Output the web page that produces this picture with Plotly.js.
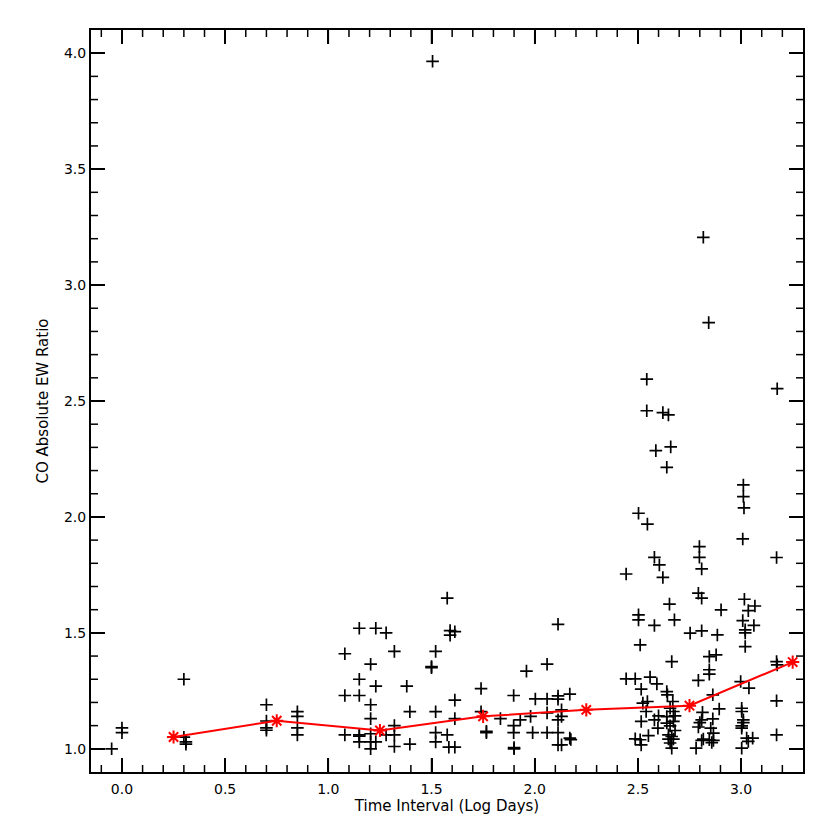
<!DOCTYPE html>
<html>
<head>
<meta charset="utf-8">
<script src="https://cdn.plot.ly/plotly-3.0.1.min.js"></script>
<style>
  html, body { margin: 0; padding: 0; background: #fff; }
  #chart { width: 830px; height: 830px; }
</style>
</head>
<body>
<div id="chart"></div>
<script>
// individual measurements: time interval (log days) vs EW ratio
const logDays = [
  -0.05, 0.00, 0.00,
  0.30, 0.30, 0.31, 0.31,
  0.70, 0.70, 0.70, 0.70,
  0.85, 0.85, 0.85, 0.85,
  1.08, 1.08, 1.08,
  1.15, 1.15, 1.15, 1.15, 1.15, 1.15,
  1.205, 1.205, 1.205, 1.205, 1.205, 1.205,
  1.23, 1.23, 1.23,
  1.28, 1.28,
  1.32, 1.32, 1.32, 1.32,
  1.38, 1.395, 1.395,
  1.50, 1.50, 1.505,
  1.52, 1.52, 1.52, 1.52,
  1.576, 1.576,
  1.59, 1.59, 1.584,
  1.613, 1.613, 1.613, 1.613,
  1.74, 1.74, 1.766, 1.766, 1.834,
  1.898, 1.898, 1.898, 1.90, 1.90,
  1.93, 1.96, 1.98, 1.99, 2.003,
  2.06, 2.06, 2.06, 2.06,
  2.113, 2.113, 2.113, 2.113, 2.113, 2.113,
  2.13, 2.13, 2.13,
  2.17, 2.17, 2.175,
  2.443, 2.443, 2.487, 2.487,
  2.503, 2.503, 2.503, 2.511, 2.511,
  2.516, 2.516, 2.516, 2.524,
  2.543, 2.543, 2.546, 2.546, 2.540, 2.551, 2.559,
  2.580, 2.580, 2.580, 2.587, 2.592, 2.597, 2.600, 2.604,
  2.621, 2.621,
  2.640, 2.640, 2.640, 2.640, 2.643,
  2.648, 2.648, 2.648, 2.653,
  2.656, 2.656, 2.656, 2.659,
  2.664, 2.664, 2.664, 2.669,
  2.672, 2.672, 2.672, 2.677, 2.680, 2.680,
  2.753, 2.782,
  2.793, 2.793, 2.793, 2.798, 2.798, 2.800,
  2.809, 2.809, 2.809, 2.809, 2.809, 2.813,
  2.817, 2.817, 2.843,
  2.846, 2.846, 2.846, 2.846, 2.853, 2.858,
  2.863, 2.863, 2.866, 2.866, 2.879, 2.885, 2.894, 2.903,
  2.998,
  3.003, 3.003, 3.003, 3.003, 3.003,
  3.008, 3.008,
  3.011, 3.011, 3.011, 3.011, 3.014, 3.016,
  3.02, 3.02, 3.02, 3.027,
  3.035, 3.035, 3.038, 3.056, 3.062, 3.067,
  3.172, 3.172, 3.172, 3.172, 3.175, 3.175
];
const ewRatio = [
  1.00, 1.09, 1.07,
  1.30, 1.05, 1.03, 1.02,
  1.19, 1.12, 1.09, 1.08,
  1.16, 1.14, 1.09, 1.06,
  1.41, 1.23, 1.06,
  1.52, 1.30, 1.23, 1.06, 1.055, 1.03,
  1.365, 1.19, 1.13, 1.065, 1.03, 1.00,
  1.52, 1.27, 1.03,
  1.50, 1.06,
  1.42, 1.10, 1.06, 1.01,
  1.27, 1.16, 1.02,
  1.355, 1.35, 3.965,
  1.42, 1.16, 1.07, 1.03,
  1.65, 1.06,
  1.51, 1.49, 1.007,
  1.505, 1.21, 1.13, 1.007,
  1.26, 1.16, 1.075, 1.07, 1.13,
  1.23, 1.10, 1.07, 1.005, 1.00,
  1.125, 1.335, 1.14, 1.07, 1.215,
  1.365, 1.215, 1.155, 1.07,
  1.537, 1.228, 1.214, 1.125, 1.07, 1.017,
  1.017, 1.168, 1.14,
  1.236, 1.046, 1.04,
  1.754, 1.302, 1.302, 1.043,
  2.016, 1.578, 1.556, 1.448, 1.039,
  1.257, 1.118, 1.017, 1.197,
  2.594, 2.458, 1.969, 1.204, 1.161, 1.057, 1.309,
  1.826, 1.532, 1.125, 2.286, 1.280, 1.089, 1.142, 1.793,
  2.450, 1.739,
  2.214, 1.247, 1.139, 1.111, 1.233,
  2.440, 1.060, 1.042, 1.624,
  1.175, 1.099, 1.025, 2.302,
  1.376, 1.053, 1.003, 1.204,
  1.161, 1.118, 1.042, 1.556, 1.142, 1.079,
  1.499, 1.003,
  1.671, 1.295, 1.094, 1.872, 1.826, 1.113,
  1.776, 1.650, 1.509, 1.125, 1.036, 1.157,
  3.206, 1.042, 2.838,
  1.398, 1.341, 1.322, 1.039, 1.089, 1.027,
  1.233, 1.129, 1.068, 1.036, 1.405, 1.491, 1.172, 1.599,
  1.290,
  1.175, 1.161, 1.099, 1.089, 1.003,
  1.905, 1.553,
  2.138, 2.088, 1.125, 1.113, 2.039, 1.645,
  1.513, 1.500, 1.441, 1.046,
  1.596, 1.032, 1.262, 1.046, 1.532, 1.616,
  1.825, 1.376, 1.207, 1.060, 2.553, 1.362
];

// binned means
const binCentres = [0.25, 0.75, 1.25, 1.75, 2.25, 2.75, 3.25];
const binMeans = [1.051, 1.121, 1.079, 1.140, 1.168, 1.186, 1.374];

const xRange = [-0.15, 3.3];
const yRange = [0.9, 4.1];

const traces = [
  {
    x: logDays,
    y: ewRatio,
    type: "scatter",
    mode: "markers",
    marker: {
      symbol: "cross-thin",
      size: 9,
      color: "black",
      line: { color: "black", width: 1.7 }
    }
  },
  {
    x: binCentres,
    y: binMeans,
    type: "scatter",
    mode: "lines+markers",
    line: { color: "red", width: 2 },
    marker: {
      symbol: "asterisk-open",
      size: 11,
      color: "red",
      line: { color: "red", width: 2 }
    }
  }
];

const margin = { l: 91, r: 27, t: 30, b: 58 };
const plotW = 830 - margin.l - margin.r;
const plotH = 830 - margin.t - margin.b;

// IDL-style inside ticks on all four sides: every 0.1, longer every 0.5
const tickShapes = [];
const tickLine = { color: "black", width: 1.5 };
for (let k = -1; k <= 32; k++) {
  const v = k / 10;
  const len = (k % 5 === 0 ? 14 : 7) / plotH;
  tickShapes.push({ type: "line", xref: "x", yref: "paper", x0: v, x1: v, y0: 0, y1: len, line: tickLine });
  tickShapes.push({ type: "line", xref: "x", yref: "paper", x0: v, x1: v, y0: 1, y1: 1 - len, line: tickLine });
}
for (let k = 10; k <= 40; k++) {
  const v = k / 10;
  const len = (k % 5 === 0 ? 14 : 7) / plotW;
  tickShapes.push({ type: "line", xref: "paper", yref: "y", x0: 0, x1: len, y0: v, y1: v, line: tickLine });
  tickShapes.push({ type: "line", xref: "paper", yref: "y", x0: 1, x1: 1 - len, y0: v, y1: v, line: tickLine });
}

const tickFont = { family: "DejaVu Sans", size: 14, color: "black" };
const titleFont = { family: "DejaVu Sans", size: 15, color: "black" };

const layout = {
  width: 830,
  height: 830,
  margin: margin,
  paper_bgcolor: "white",
  plot_bgcolor: "white",
  showlegend: false,
  shapes: tickShapes,
  xaxis: {
    range: xRange, tick0: 0, dtick: 0.5, tickformat: ".1f",
    showgrid: false, zeroline: false,
    showline: true, linecolor: "black", linewidth: 2, mirror: "allticks",
    ticks: "inside", ticklen: 14, tickwidth: 1.5, tickcolor: "black",
    tickfont: tickFont, ticklabelstandoff: 3,
    title: { text: "Time Interval (Log Days)", font: titleFont, standoff: 4 }
  },
  yaxis: {
    range: yRange, tick0: 1, dtick: 0.5, tickformat: ".1f",
    showgrid: false, zeroline: false,
    showline: true, linecolor: "black", linewidth: 2, mirror: "allticks",
    ticks: "inside", ticklen: 14, tickwidth: 1.5, tickcolor: "black",
    tickfont: tickFont,
    title: { text: "CO Absolute EW Ratio", font: titleFont, standoff: 12 }
  }
};

Plotly.newPlot("chart", traces, layout, { displayModeBar: false });
</script>
</body>
</html>
